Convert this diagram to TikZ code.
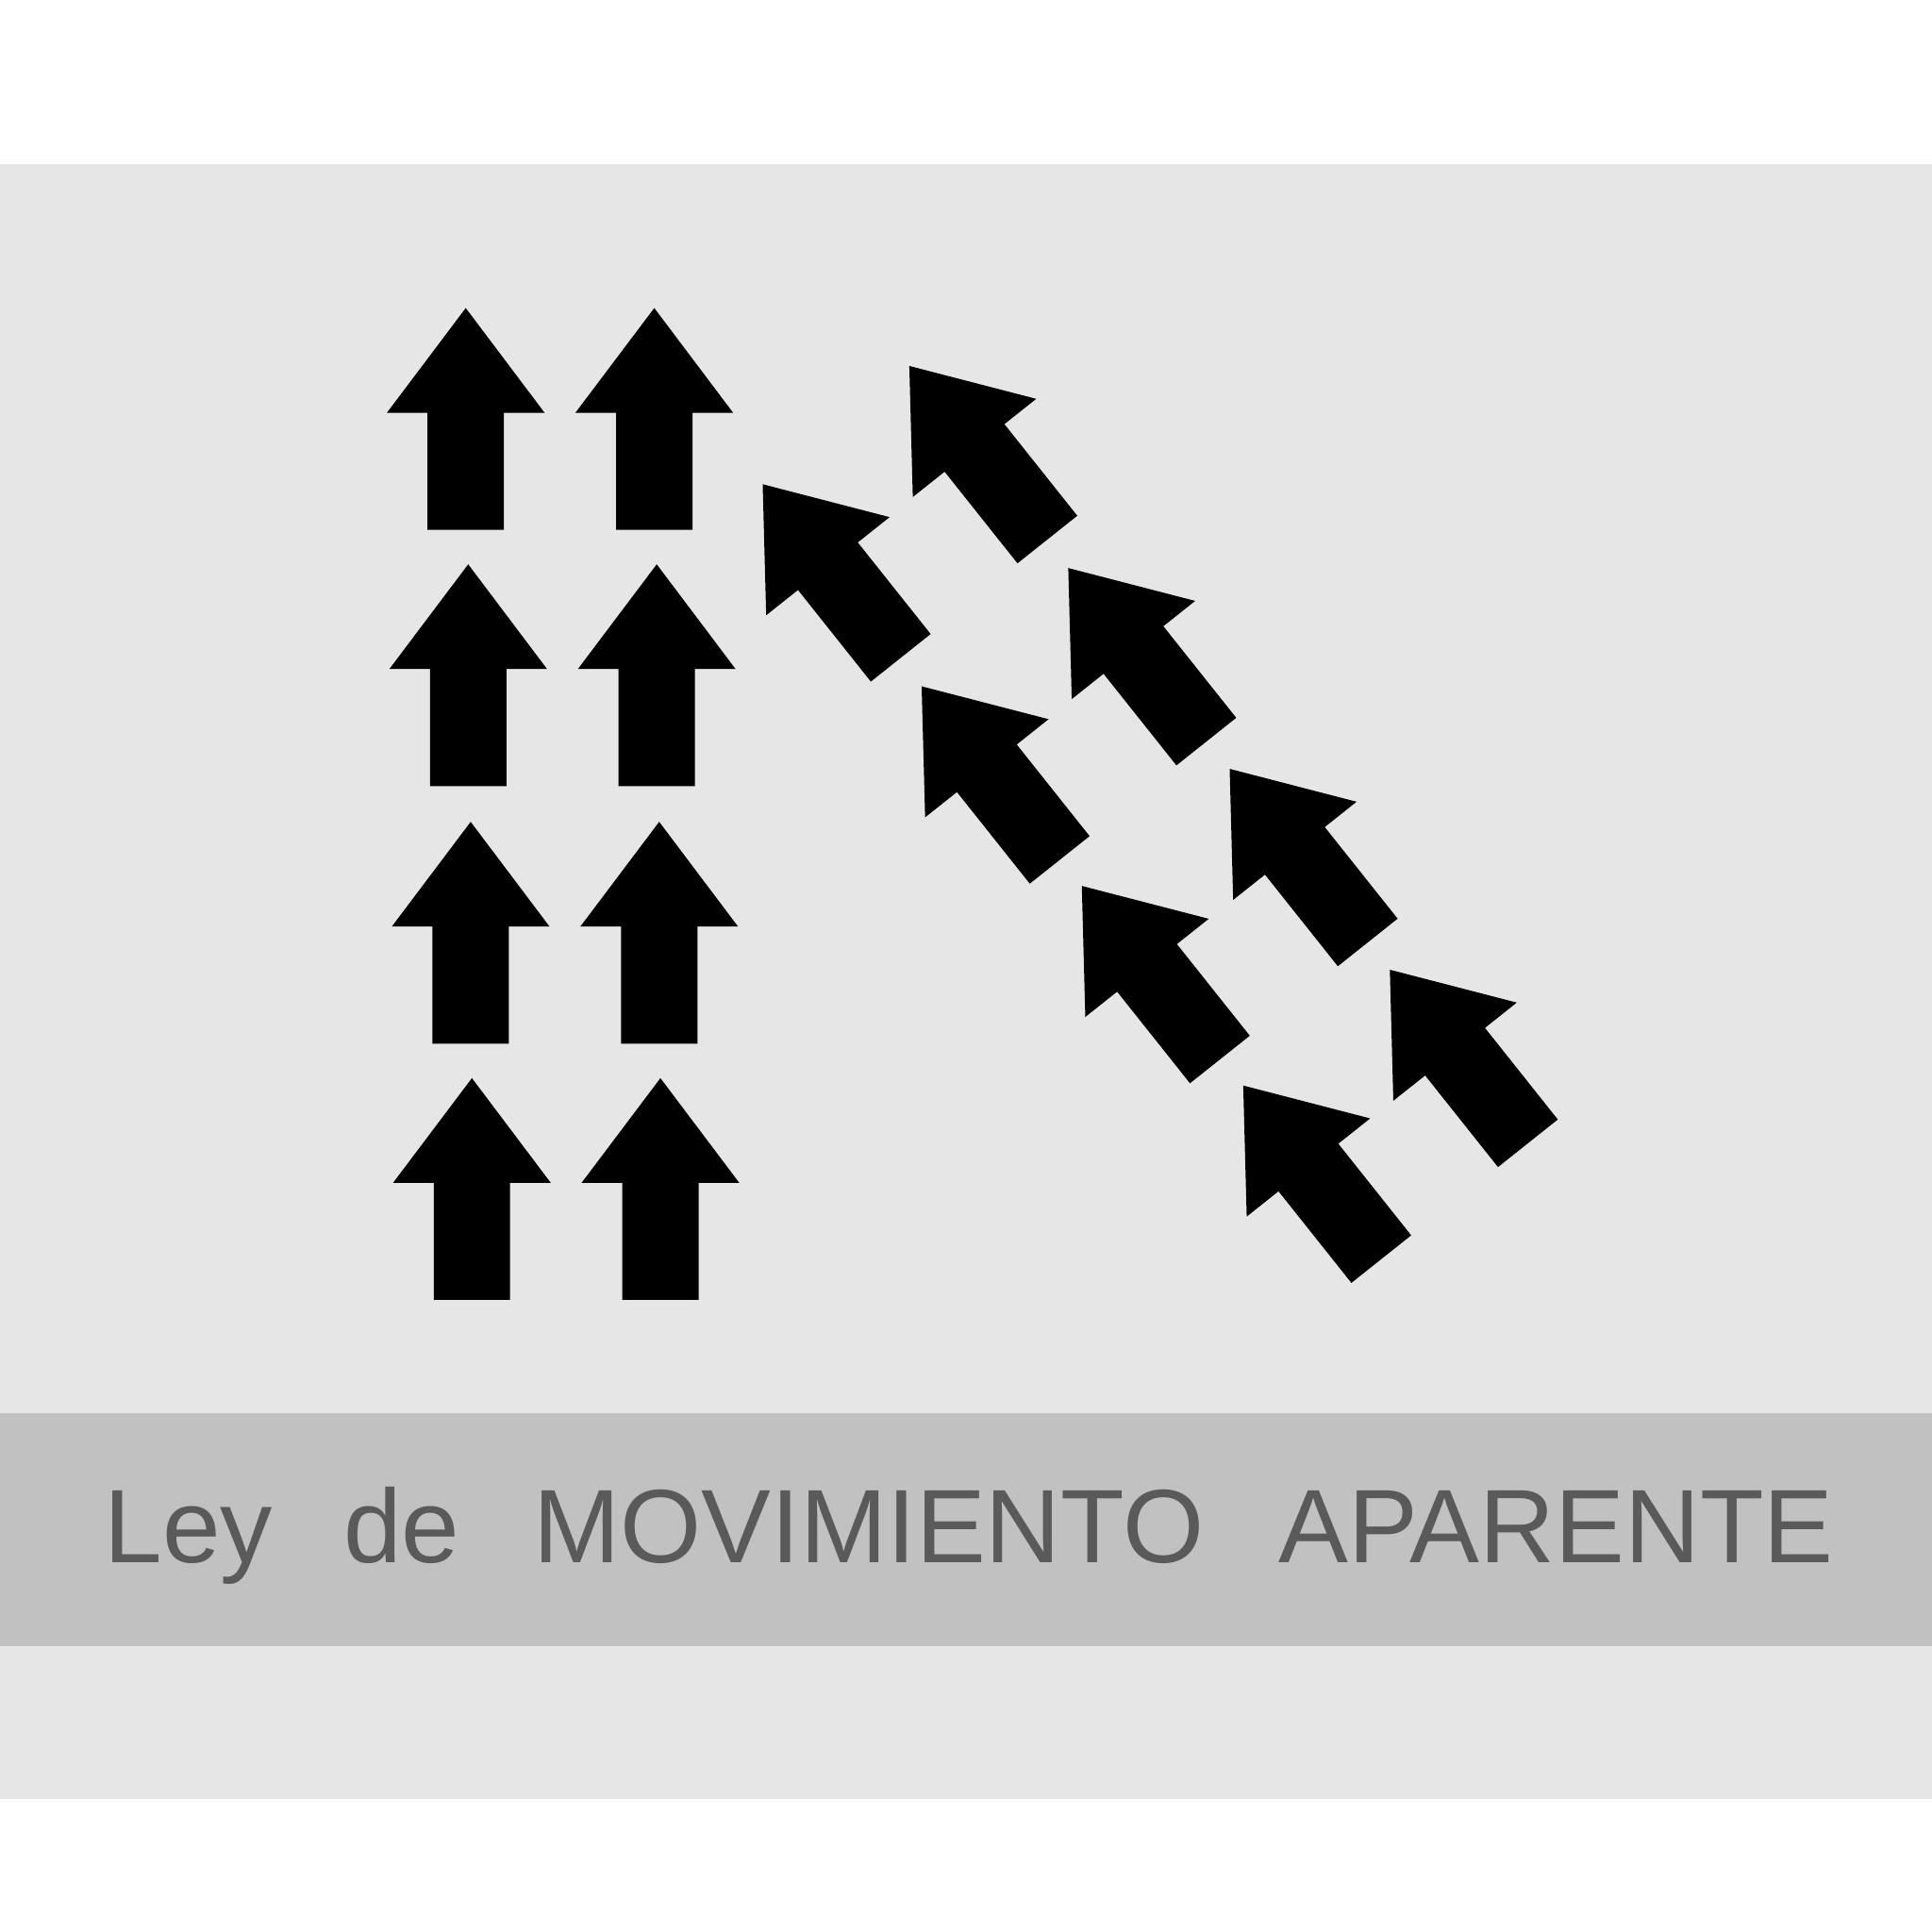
\documentclass[tikz,border=0pt]{standalone}
\usepackage{fontspec}
\setmainfont{Liberation Sans}
\definecolor{panel}{HTML}{E6E6E6}
\definecolor{band}{HTML}{C1C1C1}
\definecolor{txt}{HTML}{5A5A5A}
\tikzset{
  arrowshape/.style={fill=black,draw=none},
  label/.style={anchor=base west,inner sep=0pt,text=txt,font=\fontsize{24.1pt}{28pt}\selectfont}
}
\newcommand{\bigarrow}[3]{%
  \begin{scope}[shift={(#1,#2)},rotate=#3]
    \fill[arrowshape] (0,0) -- (64,85) -- (31,85) -- (31,180) -- (-31,180) -- (-31,85) -- (-64,85) -- cycle;
  \end{scope}}
\begin{document}
\begin{tikzpicture}[x=0.01cm,y=-0.01cm]
\useasboundingbox (0,0) rectangle (1568,1568);
\fill[white] (0,0) rectangle (1568,1568);
\fill[panel] (0,133) rectangle (1568,1460);
\fill[band] (0,1147) rectangle (1568,1336);
% upright columns
\bigarrow{378}{250}{0}
\bigarrow{380}{458}{0}
\bigarrow{382}{667}{0}
\bigarrow{383}{875}{0}
\bigarrow{531}{250}{0}
\bigarrow{533}{458}{0}
\bigarrow{535}{667}{0}
\bigarrow{536}{875}{0}
% diagonal columns
\bigarrow{738}{297}{38.5}
\bigarrow{867}{461}{38.5}
\bigarrow{998}{624}{38.5}
\bigarrow{1128}{787}{38.5}
\bigarrow{619}{393}{38.5}
\bigarrow{748}{557}{38.5}
\bigarrow{878}{719}{38.5}
\bigarrow{1009}{881}{38.5}
% caption
\node[label] (w1) at (84,1268) {Ley};
\node[label] (w2) at (278,1268) {de};
\node[label] (w3) at (432,1268) {MOVIMIENTO};
\node[label] (w4) at (1037,1268) {APARENTE};
\end{tikzpicture}
\end{document}
